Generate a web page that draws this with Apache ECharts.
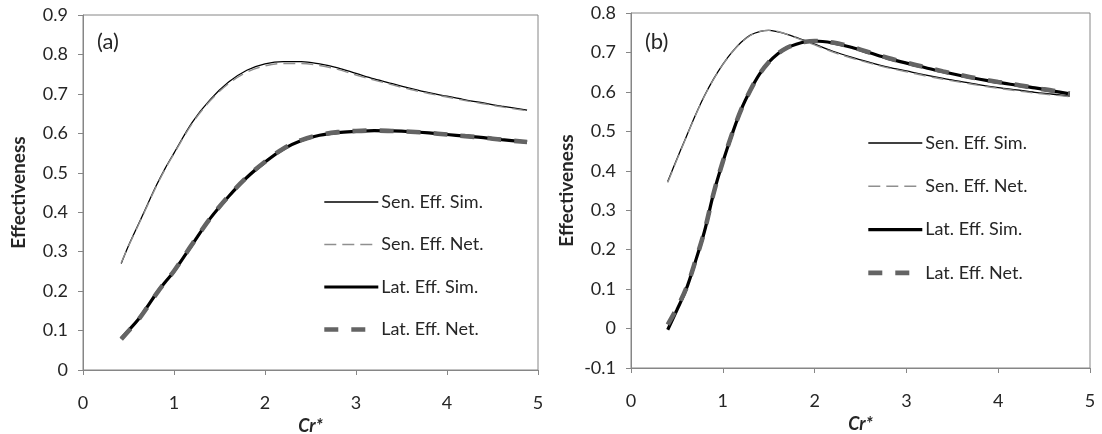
<!DOCTYPE html>
<html><head><meta charset="utf-8">
<script src="https://cdn.jsdelivr.net/npm/echarts@6/dist/echarts.min.js"></script>
<style>html,body{margin:0;padding:0;background:#fff}#c{width:1102px;height:434px}</style>
</head><body><div id="c"></div>
<script>
// ---- Panel (a) data ----
const crA = [0.42,0.5,0.6,0.7,0.8,0.9,1.0,1.2,1.4,1.6,1.8,2.0,2.2,2.4,2.6,2.8,3.0,3.2,3.4,3.6,3.8,4.0,4.2,4.4,4.6,4.88];
const senSimA = [0.270,0.315,0.365,0.415,0.465,0.510,0.550,0.628,0.686,0.730,0.760,0.776,0.782,0.782,0.776,0.766,0.752,0.738,0.726,0.714,0.703,0.694,0.685,0.677,0.669,0.659];
const senNetA = [0.272,0.314,0.363,0.413,0.463,0.508,0.548,0.625,0.683,0.726,0.755,0.771,0.777,0.777,0.772,0.762,0.748,0.735,0.723,0.711,0.701,0.692,0.683,0.675,0.667,0.657];
const latSimA = [0.080,0.100,0.126,0.158,0.192,0.222,0.250,0.318,0.385,0.440,0.488,0.527,0.560,0.582,0.595,0.602,0.605,0.607,0.606,0.604,0.601,0.597,0.593,0.589,0.584,0.578];
const latNetA = [0.078,0.099,0.125,0.157,0.191,0.222,0.251,0.319,0.385,0.441,0.489,0.528,0.561,0.583,0.596,0.603,0.606,0.607,0.606,0.604,0.601,0.597,0.593,0.589,0.584,0.578];

// ---- Panel (b) data ----
const crB = [0.4,0.5,0.6,0.7,0.8,0.9,1.0,1.1,1.2,1.3,1.4,1.5,1.6,1.7,1.8,1.9,2.0,2.2,2.4,2.6,2.8,3.0,3.2,3.4,3.6,3.8,4.0,4.2,4.4,4.6,4.78];
const senSimB = [0.373,0.430,0.485,0.540,0.590,0.633,0.670,0.701,0.726,0.744,0.753,0.756,0.752,0.746,0.738,0.730,0.721,0.703,0.688,0.675,0.663,0.653,0.643,0.634,0.626,0.618,0.611,0.605,0.599,0.594,0.589];
const senNetB = [0.370,0.428,0.484,0.539,0.589,0.632,0.669,0.700,0.725,0.743,0.753,0.756,0.753,0.746,0.737,0.728,0.719,0.701,0.686,0.673,0.661,0.651,0.641,0.632,0.624,0.616,0.609,0.603,0.597,0.592,0.588];
const latSimB = [-0.003,0.047,0.099,0.169,0.246,0.343,0.422,0.492,0.555,0.604,0.645,0.675,0.697,0.712,0.721,0.727,0.729,0.724,0.713,0.699,0.685,0.673,0.662,0.651,0.641,0.632,0.624,0.617,0.610,0.602,0.595];
const latNetB = [0.010,0.052,0.101,0.170,0.247,0.343,0.423,0.493,0.555,0.604,0.645,0.675,0.697,0.712,0.721,0.727,0.729,0.725,0.714,0.700,0.686,0.674,0.663,0.652,0.642,0.633,0.625,0.618,0.610,0.603,0.596];

const names = ['Sen. Eff. Sim.','Sen. Eff. Net.','Lat. Eff. Sim.','Lat. Eff. Net.'];
const panelLabels = ['(a)','(b)'];
const xName = 'Cr*';
const yName = 'Effectiveness';

const FONT = 'Lato';
const TXT = '#262626';
const AX = '#868686';

const styles = [
  {color:'#000000', width:1.3, type:'solid'},
  {color:'#8f8f8f', width:1.4, type:[12,6]},
  {color:'#000000', width:3.2, type:'solid'},
  {color:'#646464', width:4.6, type:[14,13]}
];

function zip(xs, ys){ return xs.map((x,i)=>[x, ys[i]]); }

const panels = [
  {xs: crA, ys:[senSimA, senNetA, latSimA, latNetA]},
  {xs: crB, ys:[senSimB, senNetB, latSimB, latNetB]}
];

const series = [];
panels.forEach((p, gi)=>{
  p.ys.forEach((ys, si)=>{
    const st = styles[si];
    series.push({
      name: names[si], type:'line', xAxisIndex: gi, yAxisIndex: gi,
      data: zip(p.xs, ys), smooth: 0.35, symbol:'none', showSymbol:false,
      lineStyle: {color: st.color, width: st.width, type: st.type},
      itemStyle: {color: st.color},
      emphasis: {disabled:true}, animation:false, z: 2 + si
    });
  });
});

function xAxis(gi){
  return {
    type:'value', gridIndex: gi, min:0, max:5, interval:1,
    name: xName, nameLocation:'middle', nameGap: 42,
    nameTextStyle:{fontFamily:FONT, fontSize:18, fontWeight:'bold', fontStyle:'italic', color:TXT},
    axisLine:{show:true, onZero:false, lineStyle:{color:AX, width:1}},
    axisTick:{show:true, length:5, lineStyle:{color:AX}},
    axisLabel:{fontFamily:FONT, fontSize:18, color:TXT, margin:24},
    splitLine:{show:false}
  };
}
function yAxis(gi, mn, mx){
  return {
    type:'value', gridIndex: gi, min:mn, max:mx, interval:0.1,
    name: yName, nameLocation:'middle', nameGap: 55, nameRotate: 90,
    nameTextStyle:{fontFamily:FONT, fontSize:19, fontWeight:'bold', color:TXT},
    axisLine:{show:true, lineStyle:{color:AX, width:1}},
    axisTick:{show:true, length:5, lineStyle:{color:AX}},
    axisLabel:{fontFamily:FONT, fontSize:18, color:TXT, margin:15,
      formatter: v => { const r = Math.round(v*10)/10; return r === 0 ? '0' : r.toFixed(1); }},
    splitLine:{show:false}
  };
}

function legendData(){
  return names.map((n,i)=>({
    name:n,
    itemStyle:{opacity:0, color:'transparent', borderWidth:0},
    lineStyle:{color:styles[i].color, width:styles[i].width, type:styles[i].type, opacity:1}
  }));
}

const option = {
  backgroundColor:'#ffffff',
  animation:false,
  title: [
    {text: panelLabels[0], left: 97, top: 31, padding:0, textStyle:{fontFamily:FONT, fontSize:22, fontWeight:'normal', color:TXT}},
    {text: panelLabels[1], left: 645, top: 31, padding:0, textStyle:{fontFamily:FONT, fontSize:22, fontWeight:'normal', color:TXT}}
  ],
  grid: [
    {left:83, top:15, width:455, height:355, show:true, borderColor:AX, borderWidth:1, backgroundColor:'transparent', containLabel:false, outerBoundsMode:'none'},
    {left:631, top:13, width:459, height:355, show:true, borderColor:AX, borderWidth:1, backgroundColor:'transparent', containLabel:false, outerBoundsMode:'none'}
  ],
  xAxis: [xAxis(0), xAxis(1)],
  yAxis: [yAxis(0, 0, 0.9), yAxis(1, -0.1, 0.8)],
  legend: [
    {data: legendData(), orient:'vertical', left:322, top:193, padding:0, itemWidth:54, itemHeight:10, itemGap:24.5,
     selectedMode:false, textStyle:{fontFamily:FONT, fontSize:18, color:TXT, padding:[0,0,0,-2]}},
    {data: legendData(), orient:'vertical', left:866, top:134, padding:0, itemWidth:54, itemHeight:10, itemGap:25.3,
     selectedMode:false, textStyle:{fontFamily:FONT, fontSize:18, color:TXT, padding:[0,0,0,-2]}}
  ],
  series: series
};

const chart = echarts.init(document.getElementById('c'), null, {renderer:'canvas'});
chart.setOption(option);
</script>
</body></html>
